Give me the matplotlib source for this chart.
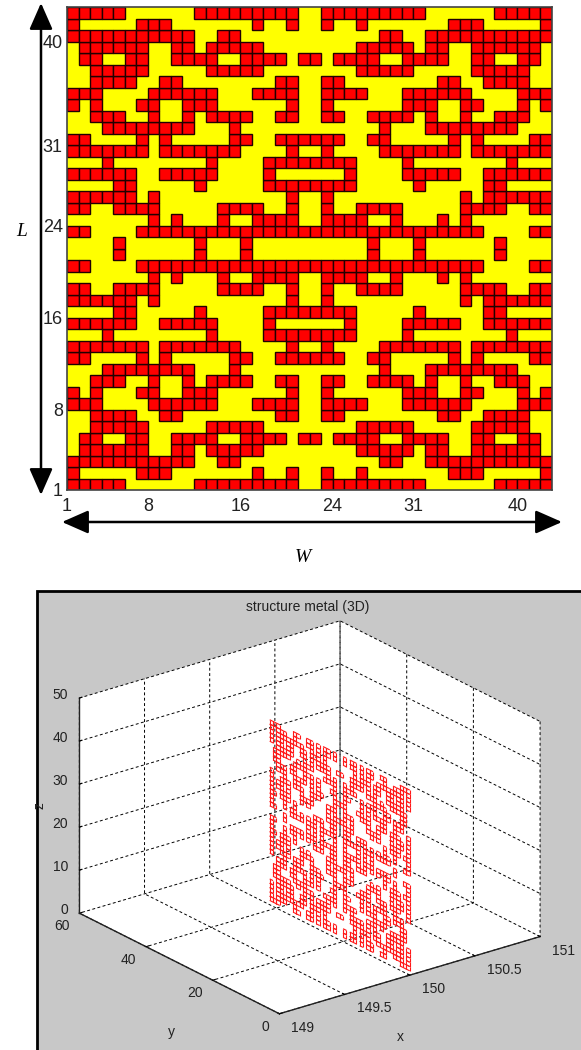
import numpy as np
import matplotlib
matplotlib.use("Agg")
import matplotlib.pyplot as plt
from matplotlib.colors import ListedColormap
from matplotlib.patches import Rectangle, FancyArrowPatch
from mpl_toolkits.mplot3d import proj3d
from mpl_toolkits.mplot3d.art3d import Line3DCollection

W, H = 581, 1050
# red column runs (0-based, inclusive) per row of the top-left quadrant, top row first
quadrant_runs = [
    [(0,4),(11,19)],
    [(0,0),(6,8),(16,16),(19,19)],
    [(0,10),(13,14)],
    [(1,6),(9,10),(12,16)],
    [(1,2),(5,6),(9,12),(15,18),(20,20)],
    [(2,6),(12,16)],
    [(2,5),(8,9),(18,19)],
    [(0,2),(7,12),(16,19)],
    [(0,0),(2,2),(6,7),(10,12),(19,19)],
    [(2,4),(7,7),(10,10),(12,15),(18,19)],
    [(3,10),(14,14)],
    [(0,1),(6,6),(8,8),(14,15),(18,20)],
    [(0,6),(8,14),(19,19)],
    [(3,3),(12,12),(17,20)],
    [(0,5),(8,12),(17,17)],
    [(4,5),(11,11),(17,20)],
    [(0,5),(7,7),(19,19)],
    [(0,1),(4,7),(13,16),(19,19)],
    [(7,7),(9,9),(13,13),(16,19)],
    [(0,1),(6,20)],
    [(4,4),(11,11),(15,15)],
]
tick_vals = [1, 8, 16, 24, 31, 40]
x3_ticks = [149, 149.5, 150, 150.5, 151]
x3_labels = ['149', '149.5', '150', '150.5', '151']
y3_ticks = [0, 20, 40, 60]
z3_ticks = [0, 10, 20, 30, 40, 50]

q = np.zeros((21, 21), dtype=int)
for r, runs in enumerate(quadrant_runs):
    for a, b in runs:
        q[r, a:b+1] = 1
top = np.hstack([q, q[:, ::-1]])
grid = np.vstack([top, top[::-1]])
N = grid.shape[0]

def px(x0, y0, x1, y1):
    return [x0/W, 1-y1/H, (x1-x0)/W, (y1-y0)/H]

plt.rcParams['font.family'] = ['Liberation Sans', 'DejaVu Sans']
fig = plt.figure(figsize=(W/100, H/100), dpi=100, facecolor='white')

# ---- top panel
ax = fig.add_axes(px(67, 7, 552, 490))
edges = np.arange(1, N+2)
ax.pcolormesh(edges, edges, grid[::-1], cmap=ListedColormap(['#ffff00', '#ff0000']),
              vmin=0, vmax=1, linewidth=0)
for r in range(N):
    for c in range(N):
        if grid[N-1-r, c]:
            ax.add_patch(Rectangle((c+1, r+1), 1, 1, fc='#ff0000', ec='#200000', lw=1.0))
ax.set_xlim(1, N+1); ax.set_ylim(1, N+1)
ax.set_xticks(tick_vals); ax.set_yticks(tick_vals)
ax.tick_params(length=0, labelsize=13, colors='#222222', pad=6)
ax.tick_params(axis='y', pad=3)
for s in ax.spines.values():
    s.set_color('#444444'); s.set_linewidth(1.2)

def arrow(p0, p1):
    fig.add_artist(FancyArrowPatch((p0[0]/W, 1-p0[1]/H), (p1[0]/W, 1-p1[1]/H),
                   transform=fig.transFigure, arrowstyle='<|-|>,head_length=1.25,head_width=0.55',
                   mutation_scale=13, color='black', lw=1.8, shrinkA=0, shrinkB=0))
arrow((41, 3), (41, 495))
arrow((62, 522), (562, 522))
fig.text(22/W, 1-231/H, 'L', family='Liberation Serif', style='italic', fontsize=14, ha='center', va='center')
fig.text(303/W, 1-557/H, 'W', family='Liberation Serif', style='italic', fontsize=14, ha='center', va='center')

# ---- bottom panel
fig.add_artist(Rectangle((36.5/W, -0.01), 1, 1-591/H+0.01, transform=fig.transFigure,
                         fc='#c8c8c8', ec='black', lw=2, zorder=-5))
fig.text(307.5/W, 1-607/H, 'structure metal (3D)', fontsize=10, color='#222222', ha='center', va='center')

a3 = fig.add_axes(px(31, 593.5, 576, 1053.5), projection='3d', proj_type='ortho', facecolor='none')
a3.patch.set_alpha(0)
a3.view_init(elev=22.7, azim=-127.5)
a3.set_box_aspect((1, 1, 0.7097), zoom=1.0972)
a3.set_xlim(149, 151); a3.set_ylim(0, 60); a3.set_zlim(0, 50)
a3.set_xticks(x3_ticks); a3.set_xticklabels([])
a3.set_yticks(y3_ticks); a3.set_yticklabels([])
# z=0 is left out of the gridded ticks: the floor edges already carry x and y grid lines there
a3.set_zticks(z3_ticks[1:]); a3.set_zticklabels([])
a3.set_zlim(0, 50)
for axis in (a3.xaxis, a3.yaxis, a3.zaxis):
    axis.set_pane_color('white')
    axis.pane.set_edgecolor('none')
    axis.line.set_color('#222222')
    axis.line.set_linewidth(1)
    axis._axinfo['grid'].update(color='black', linewidth=0.7, linestyle=(0, (3, 2.5)))
    axis._axinfo['tick'].update(inward_factor=0, outward_factor=0.12)

M = a3.get_proj()
def tick_text(x, y, z, s, dx, dy, ha):
    X, Y, _ = proj3d.proj_transform(x, y, z, M)
    a3.annotate(s, (X, Y), xytext=(dx, -dy), textcoords='offset pixels', ha=ha, va='center',
                fontsize=10, color='#222222', annotation_clip=False)
for v, s in zip(x3_ticks, x3_labels):
    tick_text(v, 0, 0, s, 12, 14, 'left')
for v in y3_ticks:
    tick_text(149, v, 0, str(v), -10, 13, 'right')
for v in z3_ticks:
    tick_text(149, 60, v, str(v), -11, -3.5, 'right')

fig.text(171/W, 1-1032/H, 'y', fontsize=10, color='#222222', ha='center', va='center')
fig.text(400/W, 1-1037/H, 'x', fontsize=10, color='#222222', ha='center', va='center')
fig.text(39/W, 1-806/H, 'z', fontsize=10, color='#222222', ha='center', va='center', rotation=90)

segs = []
for r in range(N):
    for c in range(N):
        if grid[r, c]:
            y0, y1 = r, r+1
            z0, z1 = c+1, c+2
            pts = [(150, y0, z0), (150, y1, z0), (150, y1, z1), (150, y0, z1), (150, y0, z0)]
            segs.extend([[pts[i], pts[i+1]] for i in range(4)])
a3.add_collection3d(Line3DCollection(segs, colors='#ff1818', linewidths=0.8))

fig.savefig('out.png', dpi=100, facecolor='white')
